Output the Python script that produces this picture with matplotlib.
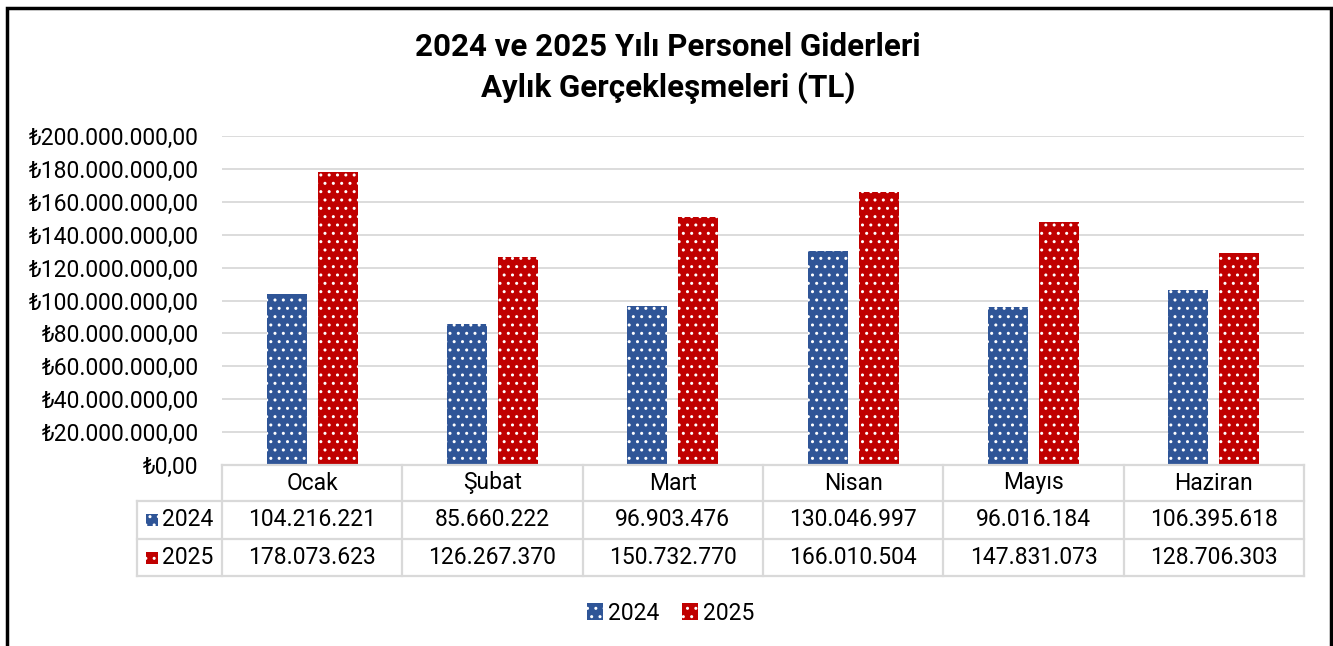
import matplotlib
matplotlib.use("Agg")
import matplotlib.pyplot as plt
from matplotlib.patches import Rectangle, Patch
from matplotlib.lines import Line2D
from matplotlib.ticker import FuncFormatter, MultipleLocator

plt.rcParams['font.family'] = ['Roboto', 'DejaVu Sans']

months = ["Ocak", "Şubat", "Mart", "Nisan", "Mayıs", "Haziran"]
series_names = ["2024", "2025"]
values_2024 = [104216221, 85660222, 96903476, 130046997, 96016184, 106395618]
values_2025 = [178073623, 126267370, 150732770, 166010504, 147831073, 128706303]
title_lines = ["2024 ve 2025 Yılı Personel Giderleri", "Aylık Gerçekleşmeleri (TL)"]

BLUE = "#2F5597"
RED = "#C00000"
GRID = "#d9d9d9"
W, H = 1333, 646
FS = 16.5

fig = plt.figure(figsize=(W / 100, H / 100), dpi=100)

def fx(x):
    return x / W

def fy(y):
    return 1 - y / H

ax = fig.add_axes([fx(222), fy(465), fx(1304) - fx(222), fy(136) - fy(465)])

x = list(range(len(months)))
bw = 0.222
off = 0.142
ax.bar([i - off for i in x], values_2024, width=bw, color=BLUE, edgecolor="white",
       linewidth=0, hatch="..", zorder=3)
ax.bar([i + off for i in x], values_2025, width=bw, color=RED, edgecolor="white",
       linewidth=0, hatch="..", zorder=3)

ax.set_xlim(-0.5, len(months) - 0.5)
ax.set_ylim(0, 200_000_000)
ax.yaxis.set_major_locator(MultipleLocator(20_000_000))

def tl(v, pos):
    s = f"{v:,.2f}".replace(",", "X").replace(".", ",").replace("X", ".")
    return "₺" + s

ax.yaxis.set_major_formatter(FuncFormatter(tl))
ax.tick_params(axis="y", length=0, pad=17, labelsize=FS)
ax.set_xticks([])
ax.grid(axis="y", color=GRID, linewidth=1.3, zorder=0)
for s in ["left", "right", "top", "bottom"]:
    ax.spines[s].set_visible(False)

# Title
fig.text(0.501, fy(47), title_lines[0], ha="center", va="center", fontsize=22.5, fontweight="bold")
fig.text(0.501, fy(88), title_lines[1], ha="center", va="center", fontsize=22.5, fontweight="bold")

# Table
inv = fig.transFigure.inverted()
bounds = []
for i in range(len(months) + 1):
    px, _ = ax.transData.transform((i - 0.5, 0))
    bounds.append(inv.transform((px, 0))[0])

row_y = [465, 501, 539, 576]
left_lab = fx(137)
lw_t = 1.6

def hline(x0, x1, y):
    fig.add_artist(Line2D([x0, x1], [fy(y), fy(y)], color=GRID, lw=lw_t, transform=fig.transFigure))

def vline(xf, y0, y1):
    fig.add_artist(Line2D([xf, xf], [fy(y0), fy(y1)], color=GRID, lw=lw_t, transform=fig.transFigure))

hline(bounds[0], bounds[-1], row_y[0])
for y in row_y[1:]:
    hline(left_lab, bounds[-1], y)
for b in bounds:
    vline(b, row_y[0], row_y[-1])
vline(left_lab, row_y[1], row_y[-1])

for i, m in enumerate(months):
    cx = (bounds[i] + bounds[i + 1]) / 2
    fig.text(cx, fy((row_y[0] + row_y[1]) / 2), m, ha="center", va="center", fontsize=FS)
    fig.text(cx, fy((row_y[1] + row_y[2]) / 2), f"{values_2024[i]:,}".replace(",", "."),
             ha="center", va="center", fontsize=FS)
    fig.text(cx, fy((row_y[2] + row_y[3]) / 2), f"{values_2025[i]:,}".replace(",", "."),
             ha="center", va="center", fontsize=FS)

for k, (name, col) in enumerate(zip(series_names, [BLUE, RED])):
    yc = (row_y[k + 1] + row_y[k + 2]) / 2
    fig.add_artist(Rectangle((fx(146), fy(yc + 6)), fx(12), fy(yc - 6) - fy(yc + 6),
                             facecolor=col, edgecolor="white", linewidth=0, hatch="..",
                             transform=fig.transFigure))
    fig.text(fx(162), fy(yc), name, ha="left", va="center", fontsize=FS)

# Legend
handles = [Patch(facecolor=BLUE, edgecolor="white", linewidth=0, hatch=".."),
           Patch(facecolor=RED, edgecolor="white", linewidth=0, hatch="..")]
fig.legend(handles, series_names, loc="center", bbox_to_anchor=(0.503, fy(613)), ncol=2,
           frameon=False, fontsize=FS, handlelength=0.7, handleheight=0.7,
           handletextpad=0.2, columnspacing=1.0)

# Outer border
fig.add_artist(Rectangle((fx(7), fy(700)), fx(1331) - fx(7), fy(8) - fy(700), fill=False,
                         edgecolor="black", linewidth=2.5, transform=fig.transFigure))

fig.savefig("out.png", dpi=100)
